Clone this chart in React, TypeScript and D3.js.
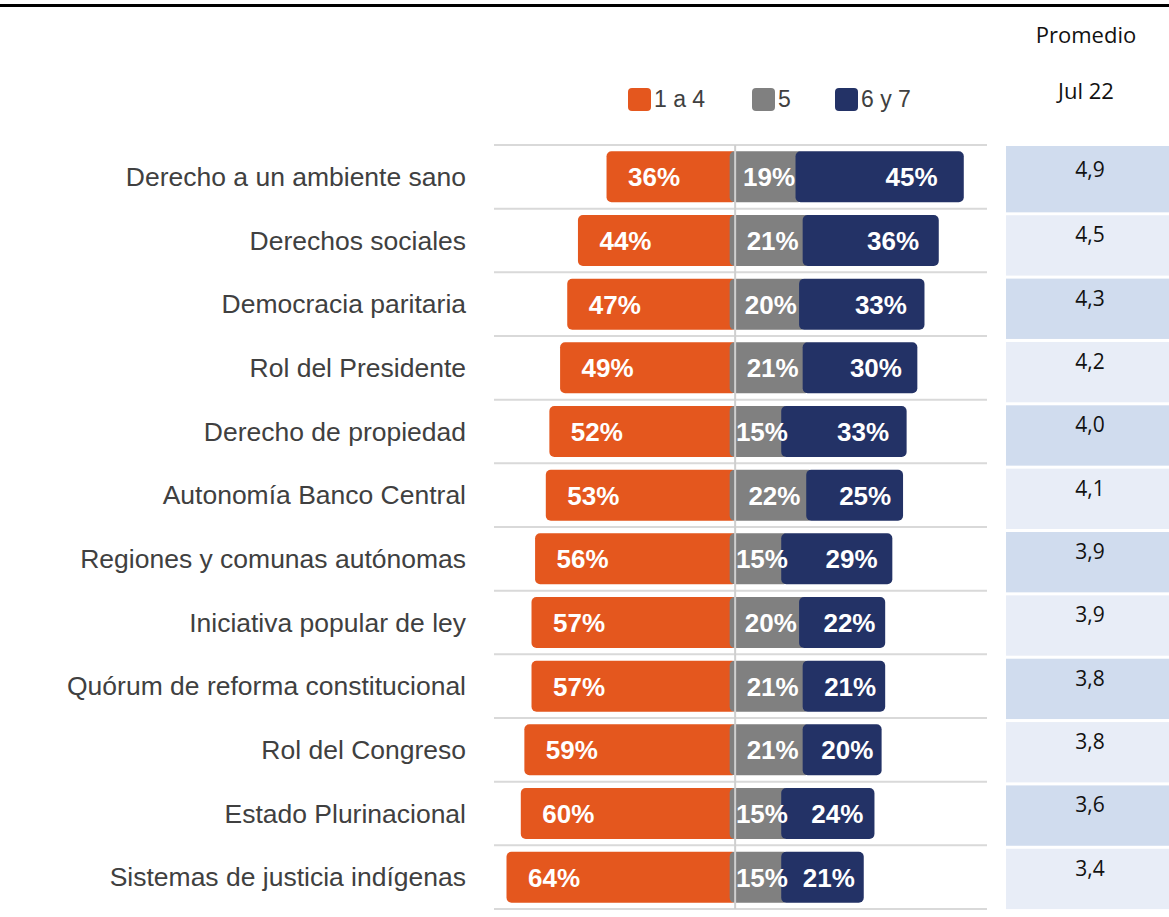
import { useRef, useEffect } from 'react'
import * as d3 from 'd3'

const categories = [
  'Derecho a un ambiente sano',
  'Derechos sociales',
  'Democracia paritaria',
  'Rol del Presidente',
  'Derecho de propiedad',
  'Autonomía Banco Central',
  'Regiones y comunas autónomas',
  'Iniciativa popular de ley',
  'Quórum de reforma constitucional',
  'Rol del Congreso',
  'Estado Plurinacional',
  'Sistemas de justicia indígenas',
]

const low = [36, 44, 47, 49, 52, 53, 56, 57, 57, 59, 60, 64]
const mid = [19, 21, 20, 21, 15, 22, 15, 20, 21, 21, 15, 15]
const high = [45, 36, 33, 30, 33, 25, 29, 22, 21, 20, 24, 21]
const promedio = ['4,9', '4,5', '4,3', '4,2', '4,0', '4,1', '3,9', '3,9', '3,8', '3,8', '3,6', '3,4']

const legendItems = ['1 a 4', '5', '6 y 7']
const colors = ['#E4571E', '#808080', '#233266']

const App = () => {
  const svgRef = useRef<SVGSVGElement | null>(null)

  useEffect(() => {
    const svg = d3.select(svgRef.current)
    svg.selectAll('*').remove()

    const width = 1169
    const height = 917
    svg.attr('width', width).attr('height', height).attr('viewBox', `0 0 ${width} ${height}`)

    const x = d3.scaleLinear().domain([-67.5, 70.5]).range([494, 987])
    const y = d3.scaleBand<string>().domain(categories).range([145, 909]).paddingInner(0.2).paddingOuter(0.1)
    const step = y.step()
    const cx = x(0)
    const bw = y.bandwidth()

    // top rule of the cut-off title
    svg.append('rect').attr('x', 0).attr('y', 4).attr('width', width).attr('height', 3).attr('fill', '#000')

    // gridlines between rows
    const bounds = d3.range(categories.length + 1).map((i) => 145 + i * step)
    svg
      .selectAll('line.grid')
      .data(bounds)
      .join('line')
      .attr('x1', 494)
      .attr('x2', 987)
      .attr('y1', (d) => d)
      .attr('y2', (d) => d)
      .attr('stroke', '#D9D9D9')
      .attr('stroke-width', 2)

    const rows = categories.map((c, i) => ({ c, lo: low[i], mid: mid[i], hi: high[i] }))

    const g = svg.append('g')
    const r = g
      .selectAll('g.row')
      .data(rows)
      .join('g')
      .attr('transform', (d) => `translate(0,${y(d.c)})`)

    // orange (left of center)
    r.append('rect')
      .attr('x', (d) => x(-d.lo))
      .attr('y', 0)
      .attr('width', (d) => cx + 2 - x(-d.lo))
      .attr('height', bw)
      .attr('rx', 5)
      .attr('fill', colors[0])

    // grey
    r.append('rect')
      .attr('x', cx - 5.5)
      .attr('y', 0)
      .attr('width', (d) => x(d.mid) - cx + 5.5)
      .attr('height', bw)
      .attr('rx', 5)
      .attr('fill', colors[1])

    // navy
    r.append('rect')
      .attr('x', (d) => x(d.mid) - 7.5)
      .attr('y', 0)
      .attr('width', (d) => x(d.mid + d.hi) - x(d.mid) + 7.5)
      .attr('height', bw)
      .attr('rx', 5)
      .attr('fill', colors[2])

    const labelStyle = (sel: any) =>
      sel
        .attr('y', bw / 2 + 9.5)
        .attr('fill', '#fff')
        .attr('font-family', 'Liberation Sans, Arial, sans-serif')
        .attr('font-weight', 'bold')
        .attr('font-size', 26)

    r.append('text')
      .call(labelStyle)
      .attr('x', (d) => x(-d.lo) + 21.5)
      .attr('text-anchor', 'start')
      .text((d) => `${d.lo}%`)

    r.append('text')
      .call(labelStyle)
      .attr('x', (d) => (cx + x(d.mid)) / 2)
      .attr('text-anchor', 'middle')
      .text((d) => `${d.mid}%`)

    r.append('text')
      .call(labelStyle)
      .attr('x', (d) => x(d.mid + 0.8 * d.hi) - 20)
      .attr('text-anchor', 'middle')
      .text((d) => `${d.hi}%`)

    // center line
    svg
      .append('line')
      .attr('x1', cx)
      .attr('x2', cx)
      .attr('y1', 145)
      .attr('y2', 909)
      .attr('stroke', '#CFCFCF')
      .attr('stroke-width', 2)

    // category labels
    svg
      .selectAll('text.cat')
      .data(categories)
      .join('text')
      .attr('transform', (d) => `translate(466,${(y(d) ?? 0) + bw / 2 + 9}) scale(1.06,1)`)
      .attr('text-anchor', 'end')
      .attr('fill', '#404040')
      .attr('font-family', 'Liberation Sans, Arial, sans-serif')
      .attr('font-size', 25)
      .text((d) => d)

    // legend
    const legendX = [628, 752, 835]
    const lg = svg
      .selectAll('g.legend')
      .data(legendItems)
      .join('g')
      .attr('transform', (_, i) => `translate(${legendX[i]},88)`)
    lg.append('rect').attr('width', 23).attr('height', 23).attr('rx', 4).attr('fill', (_, i) => colors[i])
    lg.append('text')
      .attr('x', 26)
      .attr('y', 19)
      .attr('fill', '#404040')
      .attr('font-family', 'Liberation Sans, Arial, sans-serif')
      .attr('font-size', 23)
      .text((d) => d)

    // Promedio table
    const ty = d3.scaleBand<string>().domain(categories).range([151.9, 151.9 + 12 * 63.1]).paddingInner(3 / 63.1).paddingOuter(0)
    const tableFont = 'Open Sans, Noto Sans, sans-serif'
    svg
      .selectAll('rect.cell')
      .data(categories)
      .join('rect')
      .attr('x', 1006)
      .attr('y', (d, i) => (i === 0 ? 146 : ty(d)!))
      .attr('width', width - 1006)
      .attr('height', (_, i) => (i === 0 ? ty.bandwidth() + 6 : ty.bandwidth()))
      .attr('fill', (_, i) => (i % 2 === 0 ? '#D0DCEE' : '#E8EDF7'))

    svg
      .selectAll('text.cell')
      .data(categories)
      .join('text')
      .attr('x', 1090)
      .attr('y', (d, i) => ty(d)! + (i === 0 ? 25.5 : 27))
      .attr('text-anchor', 'middle')
      .attr('fill', '#111')
      .attr('font-family', tableFont)
      .attr('font-size', 21)
      .text((_, i) => promedio[i])

    svg
      .append('text')
      .attr('x', 1086)
      .attr('y', 43)
      .attr('text-anchor', 'middle')
      .attr('fill', '#111')
      .attr('font-family', tableFont)
      .attr('font-size', 22)
      .text('Promedio')

    svg
      .append('text')
      .attr('x', 1086)
      .attr('y', 99)
      .attr('text-anchor', 'middle')
      .attr('fill', '#111')
      .attr('font-family', tableFont)
      .attr('font-size', 22)
      .text('Jul 22')
  }, [])

  return (
    <div style={{ position: 'absolute', left: 0, top: 0 }}>
      <svg ref={svgRef} style={{ display: 'block' }} />
    </div>
  )
}

export default App
